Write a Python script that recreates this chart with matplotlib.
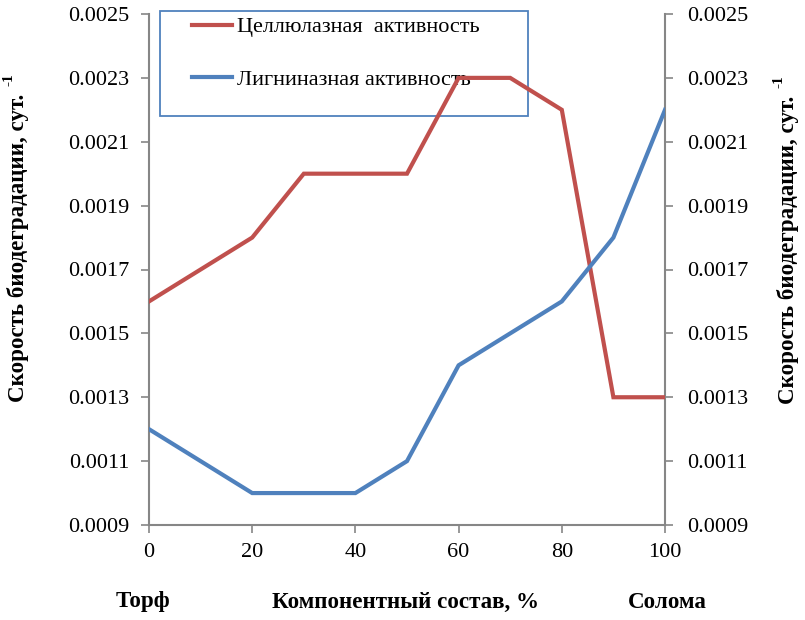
import matplotlib
matplotlib.use("Agg")
import matplotlib.pyplot as plt
from matplotlib.patches import Rectangle
from matplotlib.font_manager import FontProperties, findfont

x = [0, 20, 30, 40, 50, 60, 70, 80, 90, 100]
cellulase = [0.0016, 0.0018, 0.0020, 0.0020, 0.0020, 0.0023, 0.0023, 0.0022, 0.0013, 0.0013]
lignin = [0.0012, 0.0010, 0.0010, 0.0010, 0.0011, 0.0014, 0.0015, 0.0016, 0.0018, 0.0022]
xticks = [0, 20, 40, 60, 80, 100]
yticks = [0.0009, 0.0011, 0.0013, 0.0015, 0.0017, 0.0019, 0.0021, 0.0023, 0.0025]
ytick_labels = ["0.0009", "0.0011", "0.0013", "0.0015", "0.0017", "0.0019", "0.0021", "0.0023", "0.0025"]

fs = 16
fsb = 16.6
reg_path = findfont(FontProperties(family='Liberation Serif'))
bold_path = findfont(FontProperties(family='Liberation Serif', weight='bold'))
P = lambda size=fs: FontProperties(fname=reg_path, size=size)
PB = lambda size=fsb: FontProperties(fname=bold_path, size=size)

fig = plt.figure(figsize=(8.05, 6.2), dpi=100)
ax = fig.add_axes([149/805, 1-525/620, (665-149)/805, (525-14)/620])
red = '#c0504d'
blue = '#4f81bd'

ax.add_patch(Rectangle((160/805, 1-116/620), (528-160)/805, (116-11)/620,
                       transform=fig.transFigure, fill=False,
                       edgecolor=blue, lw=1.3, zorder=1, clip_on=False))

l1, = ax.plot(x, cellulase, color=red, lw=3.0, solid_joinstyle='miter', label='Целлюлазная  активность', zorder=3)
l2, = ax.plot(x, lignin, color=blue, lw=3.0, solid_joinstyle='miter', label='Лигниназная активность', zorder=3)
ax.set_xlim(0, 100)
ax.set_ylim(0.0009, 0.0025)
ax.set_xticks(xticks)
ax.set_xticklabels([str(v) for v in xticks])
ax.set_yticks(yticks)
ax.set_yticklabels(ytick_labels)
ax.tick_params(axis='both', direction='out', length=6, width=1.2, color='#868686', pad=8)
ax.tick_params(axis='x', pad=7)
for s in ['left', 'bottom']:
    ax.spines[s].set_color('#868686')
    ax.spines[s].set_linewidth(1.5)
ax.spines['top'].set_visible(False)
ax.spines['right'].set_visible(False)

ax2 = ax.twinx()
ax2.set_ylim(0.0009, 0.0025)
ax2.set_yticks(yticks)
ax2.set_yticklabels(ytick_labels)
ax2.tick_params(axis='y', direction='out', length=6, width=1.2, color='#868686', pad=10)
for s in ['left', 'bottom', 'top']:
    ax2.spines[s].set_visible(False)
ax2.spines['right'].set_color('#868686')
ax2.spines['right'].set_linewidth(1.5)
ax2.set_zorder(ax.get_zorder()-1)
ax.patch.set_visible(False)

for lbl in ax.get_xticklabels() + ax.get_yticklabels() + ax2.get_yticklabels():
    lbl.set_fontproperties(P())

ylab = 'Скорость биодеградации, сут.'
t_left = fig.text(18/805, 1-248/620, ylab, rotation=90, ha='center', va='center', fontproperties=PB())
t_right = fig.text(788/805, 1-250/620, ylab, rotation=90, ha='center', va='center', fontproperties=PB())

fig.text(143/805, 1-602/620, 'Торф', ha='center', va='center', fontproperties=PB())
fig.text(405/805, 1-602/620, 'Компонентный состав, %', ha='center', va='center', fontproperties=PB())
fig.text(667/805, 1-602/620, 'Солома', ha='center', va='center', fontproperties=PB())

leg = ax.legend(handles=[l1, l2], loc='upper left', bbox_to_anchor=(183/805, 1-8/620),
                bbox_transform=fig.transFigure, prop=P(),
                frameon=False, handlelength=1.8, handletextpad=0.22,
                labelspacing=1.42, borderaxespad=0)
leg.set_zorder(2)

# superscripts "-1"
fig.canvas.draw()
r = fig.canvas.get_renderer()
for t in (t_left, t_right):
    bb = t.get_window_extent(r)
    xs = (bb.x0 + 2) / 805
    ys = (bb.y1 + 8) / 620
    fig.text(xs, ys, '-1', rotation=90, ha='center', va='bottom', fontproperties=PB(11))

fig.savefig('out.png', dpi=100)
